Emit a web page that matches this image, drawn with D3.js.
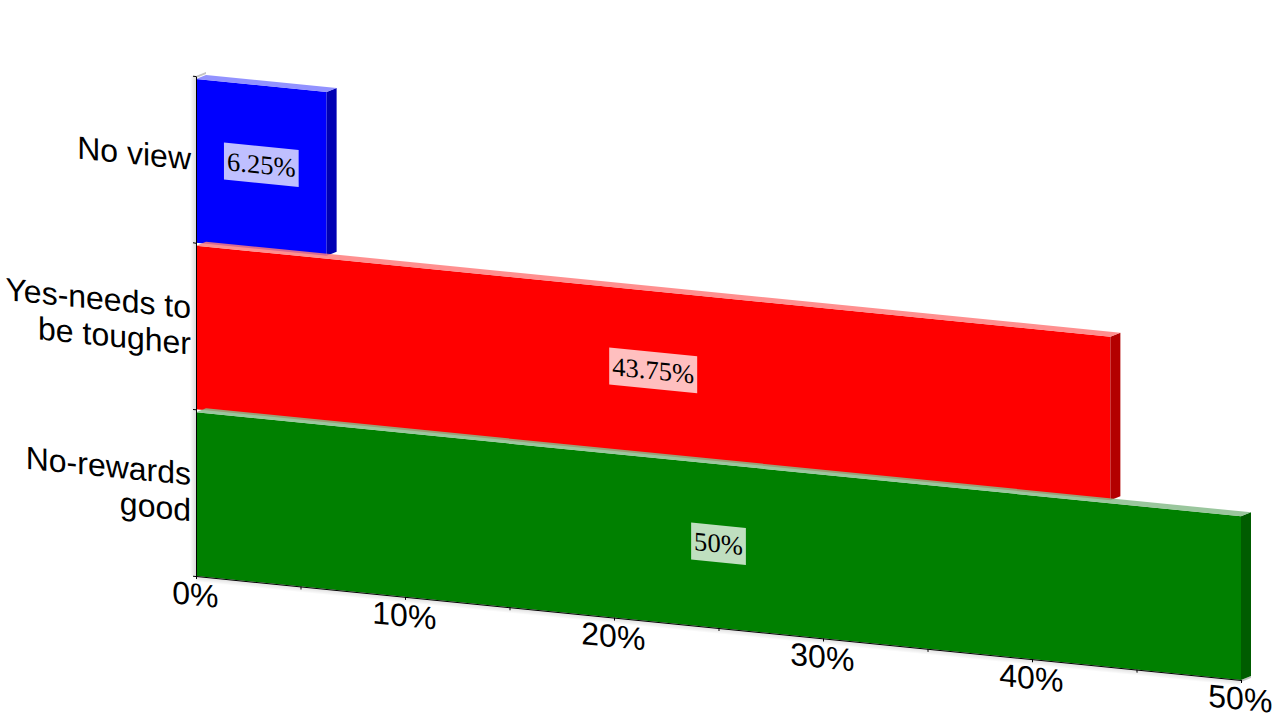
<!DOCTYPE html>
<html><head><meta charset="utf-8">
<script src="https://cdn.jsdelivr.net/npm/d3@7"></script>
<style>html,body{margin:0;background:#fff}svg{display:block}
.lab{font-family:"Liberation Sans",Arial,sans-serif;font-size:32px;fill:#000}
.val{font-family:"Liberation Serif",serif;font-size:26.6px;fill:#000}</style>
</head><body><svg id="c" width="1280" height="720"></svg>
<script>
const categories = ["No view", "Yes-needs to|be tougher", "No-rewards|good"];
const values = [6.25, 43.75, 50];
const valueLabels = ["6.25%", "43.75%", "50%"];
const barColors = ["#0000ff", "#ff0000", "#008000"];
const sideColors = ["#0000b3", "#b30000", "#005c00"];
const topColors = ["#7f7fff", "#ff7b7b", "#88bc8c"];
const xTicks = [0, 5, 10, 15, 20, 25, 30, 35, 40, 45, 50];

const dx = 10, dy = -5, shear = 0.0995;
const svg = d3.select("#c");
const defs = svg.append("defs");
const wg = defs.append("linearGradient").attr("id","wall");
wg.append("stop").attr("offset",0).attr("stop-color","#000").attr("stop-opacity",0);
wg.append("stop").attr("offset",1).attr("stop-color","#000").attr("stop-opacity",0.14);
const fg = defs.append("linearGradient").attr("id","floor").attr("x1",0).attr("x2",0).attr("y1",0).attr("y2",1);
fg.append("stop").attr("offset",0).attr("stop-color","#000").attr("stop-opacity",0.14);
fg.append("stop").attr("offset",1).attr("stop-color","#000").attr("stop-opacity",0);

const g = svg.append("g").attr("transform",`matrix(1,${shear},0,1,196,0)`);
const x = d3.scaleLinear().domain([0,50]).range([0,1045]);
const yEdge = d3.scaleLinear().domain([0,3]).range([76,576]);
const y = d3.scaleBand().domain(categories).range([76,576]);

// shadows of wall and floor
g.append("rect").attr("x",-6).attr("y",76).attr("width",6).attr("height",500).attr("fill","url(#wall)");
g.append("rect").attr("x",0).attr("y",576).attr("width",1045).attr("height",6).attr("fill","url(#floor)");
g.append("polygon").attr("points",`0,76 ${dx},${76+dy} ${dx},${76+dy+2} 0,78`).attr("fill","#c4c4c4");
g.append("polygon").attr("points",`1045,576 ${1045+dx},${576+dy} ${1045+dx},${576+dy+2} 1045,578`).attr("fill","#c4c4c4");

const capH = 3;
const bars = g.selectAll("g.bar").data(categories).join("g").attr("class","bar");
bars.each(function(c,i){
  const s = d3.select(this), w = x(values[i]), y0 = y(c)+capH, y1 = y(c)+y.bandwidth();
  s.append("rect").attr("x",0).attr("y",y0).attr("width",w).attr("height",y1-y0).attr("fill",barColors[i]);
  s.append("polygon").attr("points",`${w},${y0} ${w+dx},${y0+dy} ${w+dx},${y1+dy} ${w},${y1}`).attr("fill",sideColors[i]);
  s.append("polygon").attr("points",`0,${y0} ${dx},${y0+dy} ${w+dx},${y0+dy} ${w},${y0}`).attr("fill",topColors[i]).attr("fill-opacity",0.85);
});

// value labels
bars.each(function(c,i){
  const s = d3.select(this), cx = x(values[i])/2, cy = y(c)+y.bandwidth()/2-1;
  const r = s.append("rect").attr("fill","#fff").attr("fill-opacity",0.75);
  const t = s.append("text").attr("class","val").attr("x",cx).attr("y",cy).attr("dy","0.33em").attr("text-anchor","middle").text(valueLabels[i]);
  const w = t.node().getComputedTextLength()+6;
  r.attr("x",cx-w/2).attr("y",cy-18.5).attr("width",w).attr("height",37);
});

// axes
const xAxis = g.append("g").attr("transform","translate(0,576)")
  .call(d3.axisBottom(x).tickValues(xTicks).tickSize(3).tickPadding(4).tickSizeOuter(0)
    .tickFormat(d => d % 10 === 0 ? d + "%" : ""));
const yAxis = g.append("g")
  .call(d3.axisLeft(yEdge).tickValues([0,1,2,3]).tickSize(3).tickSizeOuter(0).tickFormat(""));
[xAxis,yAxis].forEach(a=>{a.selectAll("path,line").attr("stroke","#000").attr("stroke-width",1);
  a.selectAll("text").attr("class","lab").attr("dx",-1.2);
  a.attr("font-size",null).attr("font-family",null)});

// category labels
const lh = 36;
g.selectAll("text.cat").data(categories).join("text").attr("class","cat lab").attr("text-anchor","end")
 .each(function(c){
   const lines = c.split("|"), cy = y(c)+y.bandwidth()/2;
   d3.select(this).selectAll("tspan").data(lines).join("tspan").attr("x",-5)
     .attr("y",(d,k)=>cy+(k-(lines.length-1)/2)*lh+11).text(d=>d);
 });
</script></body></html>
